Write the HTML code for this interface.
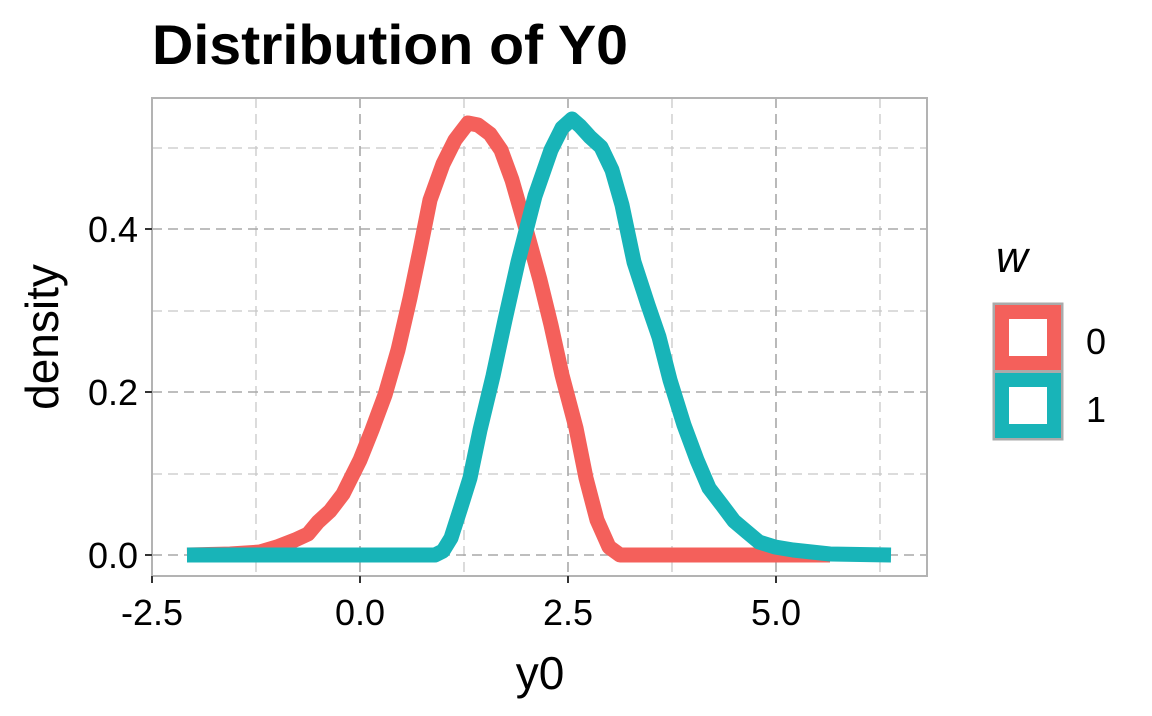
<!DOCTYPE html>
<html><head><style>
body{margin:0;background:#fff;}
svg text{font-family:"Liberation Sans",Arial,sans-serif;}
</style></head><body>
<svg width="1152" height="711" viewBox="0 0 1152 711" xmlns="http://www.w3.org/2000/svg">
<rect width="1152" height="711" fill="#fff"/>
<text x="152" y="64" font-size="56" font-weight="bold" fill="#000" textLength="476" lengthAdjust="spacingAndGlyphs">Distribution of Y0</text>
<g stroke="#c8c8c8" stroke-width="1.3" stroke-dasharray="10,6">
<line x1="256" y1="98" x2="256" y2="576"/><line x1="464" y1="98" x2="464" y2="576"/>
<line x1="672" y1="98" x2="672" y2="576"/><line x1="880" y1="98" x2="880" y2="576"/>
<line x1="152" y1="474" x2="927" y2="474"/><line x1="152" y1="311" x2="927" y2="311"/><line x1="152" y1="148" x2="927" y2="148"/>
</g>
<g stroke="#a8a8a8" stroke-width="1.6" stroke-dasharray="10,6">
<line x1="360" y1="98" x2="360" y2="576"/><line x1="568" y1="98" x2="568" y2="576"/><line x1="776" y1="98" x2="776" y2="576"/>
<line x1="152" y1="555" x2="927" y2="555"/><line x1="152" y1="392" x2="927" y2="392"/><line x1="152" y1="229" x2="927" y2="229"/>
</g>
<g fill="none" stroke-width="15" stroke-linejoin="round" stroke-linecap="butt">
<polyline stroke="#F4605B" points="187,555 230,554 260,552 277,547 295,540 308,534 318,522 330,511 343,494 360,460 372,430 385,395 398,350 410,298 420,250 430,200 443,164 455,140 468,123 478,125 490,134 501,150 512,180 526,229 540,280 551,325 562,375 576,428 586,478 597,520 609,547 620,555 830,555"/>
<polyline stroke="#18B4B8" points="187,555 435,555 443,551 451,538 460,510 470,478 480,430 493,376 505,320 518,262 535,196 551,150 562,128 572,119 580,126 590,137 601,147 612,170 622,205 634,262 648,305 659,337 670,380 684,425 697,460 709,488 722,505 734,521 747,532 759,542 775,547 793,550 830,554 891,555"/>
</g>
<rect x="152" y="98" width="775" height="478" fill="none" stroke="#b3b3b3" stroke-width="2"/>
<g stroke="#333" stroke-width="2">
<line x1="152" y1="576" x2="152" y2="583"/><line x1="360" y1="576" x2="360" y2="583"/><line x1="568" y1="576" x2="568" y2="583"/><line x1="776" y1="576" x2="776" y2="583"/>
<line x1="145" y1="555" x2="152" y2="555"/><line x1="145" y1="392" x2="152" y2="392"/><line x1="145" y1="229" x2="152" y2="229"/>
</g>
<g font-size="36" fill="#000" text-anchor="middle">
<text x="152" y="625">-2.5</text><text x="360" y="625">0.0</text><text x="568" y="625">2.5</text><text x="776" y="625">5.0</text>
</g>
<g font-size="36" fill="#000" text-anchor="end">
<text x="138" y="568">0.0</text><text x="138" y="405">0.2</text><text x="138" y="242">0.4</text>
</g>
<text x="540" y="689" font-size="46" text-anchor="middle">y0</text>
<text transform="translate(58,337) rotate(-90)" font-size="46" text-anchor="middle">density</text>
<text x="996" y="272" font-size="44" font-style="italic">w</text>
<rect x="994" y="304" width="68" height="67" fill="#fff" stroke="#aaa" stroke-width="3"/>
<rect x="1002" y="312" width="52" height="51" fill="#fff" stroke="#F4605B" stroke-width="14"/>
<rect x="994" y="372" width="68" height="67" fill="#fff" stroke="#aaa" stroke-width="3"/>
<rect x="1002" y="380" width="52" height="51" fill="#fff" stroke="#18B4B8" stroke-width="14"/>
<text x="1086" y="354" font-size="36">0</text>
<text x="1086" y="422" font-size="36">1</text>
</svg>
</body></html>
